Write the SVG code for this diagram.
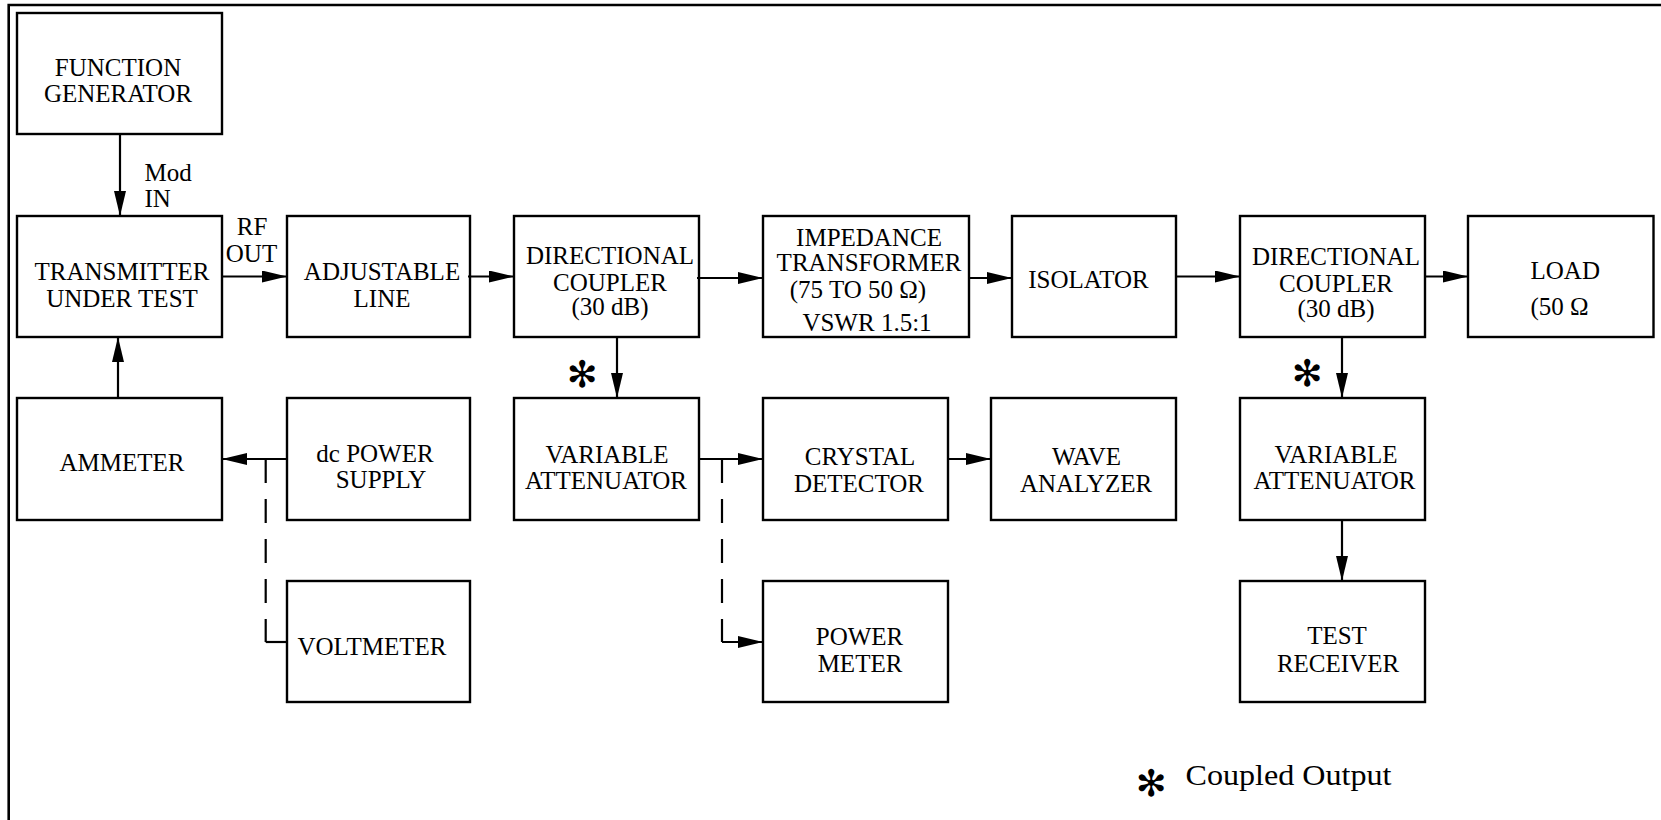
<svg xmlns="http://www.w3.org/2000/svg" width="1661" height="820" viewBox="0 0 1661 820">
  <style>
    .box { fill: none; stroke: #000; stroke-width: 2.4; }
    .t { font-family: "Liberation Serif", "Times New Roman", serif; font-size: 25px; fill: #000; text-anchor: middle; }
    .l { text-anchor: start; }
    .c { fill: none; stroke: #000; stroke-width: 2.2; }
    .d { stroke-dasharray: 24 16; }
    .ast { font-family: "DejaVu Sans", sans-serif; font-weight: bold; font-size: 37px; fill: #000; text-anchor: middle; }
    .frame { fill: none; stroke: #000; stroke-width: 2.6; }
  </style>
  <defs>
    <marker id="ah" markerUnits="userSpaceOnUse" markerWidth="25" markerHeight="12" refX="25" refY="6" orient="auto">
      <path d="M0,0 L25,6 L0,12 Z" fill="#000"/>
    </marker>
  </defs>

  <rect width="1661" height="820" fill="#fff"/>
  <!-- page frame: top and left rules -->
  <path class="frame" d="M8.7,822 V5 H1663"/>

  <g id="function-generator">
    <rect class="box" x="17" y="13" width="205" height="121"/>
    <text class="t" x="118" y="75.5">FUNCTION</text>
    <text class="t" x="118" y="101.5">GENERATOR</text>
  </g>
  <g id="transmitter">
    <rect class="box" x="17" y="216" width="205" height="121"/>
    <text class="t" x="122" y="280">TRANSMITTER</text>
    <text class="t" x="122" y="306.5">UNDER TEST</text>
  </g>
  <g id="adjustable-line">
    <rect class="box" x="287" y="216" width="183" height="121"/>
    <text class="t" x="382" y="280">ADJUSTABLE</text>
    <text class="t" x="382" y="306.5">LINE</text>
  </g>
  <g id="directional-coupler-1">
    <rect class="box" x="514" y="216" width="185" height="121"/>
    <text class="t" x="610" y="264">DIRECTIONAL</text>
    <text class="t" x="610" y="290.5">COUPLER</text>
    <text class="t" x="610" y="315">(30 dB)</text>
  </g>
  <g id="impedance-transformer">
    <rect class="box" x="763" y="216" width="206" height="121"/>
    <text class="t" x="869" y="245.5">IMPEDANCE</text>
    <text class="t" x="869" y="270.5">TRANSFORMER</text>
    <text class="t" x="858" y="298">(75 TO 50 Ω)</text>
    <text class="t" x="867" y="331">VSWR 1.5:1</text>
  </g>
  <g id="isolator">
    <rect class="box" x="1012" y="216" width="164" height="121"/>
    <text class="t" x="1088.5" y="288">ISOLATOR</text>
  </g>
  <g id="directional-coupler-2">
    <rect class="box" x="1240" y="216" width="185" height="121"/>
    <text class="t" x="1336" y="265">DIRECTIONAL</text>
    <text class="t" x="1336" y="291.5">COUPLER</text>
    <text class="t" x="1336" y="316.5">(30 dB)</text>
  </g>
  <g id="load">
    <rect class="box" x="1468" y="216" width="185.5" height="121"/>
    <text class="t l" x="1530.5" y="279">LOAD</text>
    <text class="t l" x="1530.5" y="315">(50 Ω</text>
  </g>

  <g id="ammeter">
    <rect class="box" x="17" y="398" width="205" height="122"/>
    <text class="t" x="122" y="471">AMMETER</text>
  </g>
  <g id="dc-power-supply">
    <rect class="box" x="287" y="398" width="183" height="122"/>
    <text class="t" x="375" y="461.5">dc POWER</text>
    <text class="t" x="381" y="488">SUPPLY</text>
  </g>
  <g id="variable-attenuator-1">
    <rect class="box" x="514" y="398" width="185" height="122"/>
    <text class="t" x="607" y="462.5">VARIABLE</text>
    <text class="t" x="606" y="489">ATTENUATOR</text>
  </g>
  <g id="crystal-detector">
    <rect class="box" x="763" y="398" width="185" height="122"/>
    <text class="t" x="860" y="465">CRYSTAL</text>
    <text class="t" x="859" y="491.5">DETECTOR</text>
  </g>
  <g id="wave-analyzer">
    <rect class="box" x="991" y="398" width="185" height="122"/>
    <text class="t" x="1086.5" y="465">WAVE</text>
    <text class="t" x="1086" y="491.5">ANALYZER</text>
  </g>
  <g id="variable-attenuator-2">
    <rect class="box" x="1240" y="398" width="185" height="122"/>
    <text class="t" x="1336" y="462.5">VARIABLE</text>
    <text class="t" x="1334.5" y="489">ATTENUATOR</text>
  </g>

  <g id="voltmeter">
    <rect class="box" x="287" y="581" width="183" height="121"/>
    <text class="t" x="372" y="655">VOLTMETER</text>
  </g>
  <g id="power-meter">
    <rect class="box" x="763" y="581" width="185" height="121"/>
    <text class="t" x="859.5" y="645">POWER</text>
    <text class="t" x="860" y="671.5">METER</text>
  </g>
  <g id="test-receiver">
    <rect class="box" x="1240" y="581" width="185" height="121"/>
    <text class="t" x="1337" y="644">TEST</text>
    <text class="t" x="1338" y="671.5">RECEIVER</text>
  </g>

  <g id="connectors">
    <path class="c" d="M120,134 V216" marker-end="url(#ah)"/>
    <path class="c" d="M118,398 V337" marker-end="url(#ah)"/>
    <path class="c" d="M222,276.5 H287" marker-end="url(#ah)"/>
    <path class="c" d="M468,276.5 H514" marker-end="url(#ah)"/>
    <path class="c" d="M697,278 H763" marker-end="url(#ah)"/>
    <path class="c" d="M969,278 H1012" marker-end="url(#ah)"/>
    <path class="c" d="M1176,276.5 H1240" marker-end="url(#ah)"/>
    <path class="c" d="M1425,276.5 H1468" marker-end="url(#ah)"/>
    <path class="c" d="M617,337 V398" marker-end="url(#ah)"/>
    <path class="c" d="M1342,337 V398" marker-end="url(#ah)"/>
    <path class="c" d="M1342,520 V581" marker-end="url(#ah)"/>
    <path class="c" d="M699,459 H763" marker-end="url(#ah)"/>
    <path class="c" d="M948,459 H991" marker-end="url(#ah)"/>
    <path class="c" d="M287,459 H222" marker-end="url(#ah)"/>
    <!-- voltmeter tap -->
    <path class="c d" d="M265.7,459 V642"/>
    <path class="c" d="M265.7,642 H287"/>
    <!-- power meter tap -->
    <path class="c d" d="M722,459 V642"/>
    <path class="c" d="M722,642 H763" marker-end="url(#ah)"/>
  </g>

  <g id="port-labels">
    <text class="t l" x="144.5" y="181">Mod</text>
    <text class="t l" x="144.5" y="207">IN</text>
    <text class="t" x="252" y="235">RF</text>
    <text class="t" x="251.5" y="261.5">OUT</text>
    <text class="ast" x="582" y="387">✻</text>
    <text class="ast" x="1307" y="386">✻</text>
  </g>

  <g id="legend">
    <text class="ast" x="1151" y="796">✻</text>
    <text class="t l" x="1185.5" y="785" style="font-size:30px" textLength="206" lengthAdjust="spacingAndGlyphs">Coupled Output</text>
  </g>
</svg>
